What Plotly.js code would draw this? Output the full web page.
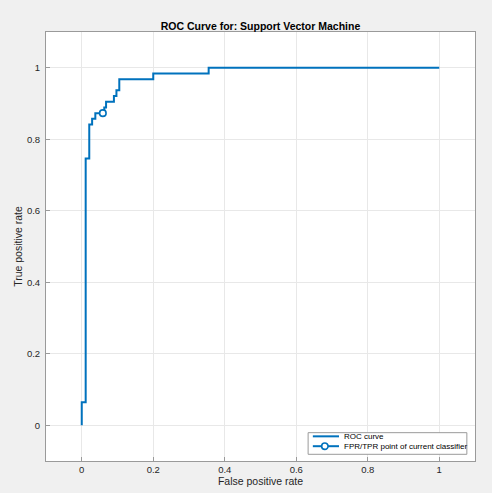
<!DOCTYPE html>
<html>
<head>
<meta charset="utf-8">
<script src="https://cdn.plot.ly/plotly-3.0.1.min.js"></script>
<style>
html,body{margin:0;padding:0;background:#f0f0f0;}
#chart{width:492px;height:493px;}
</style>
</head>
<body>
<div id="chart"></div>
<script>
// ROC curve vertices (false positive rate, true positive rate)
const rocFPR = [0, 0, 0.011, 0.011, 0.021, 0.021, 0.029, 0.029, 0.038, 0.038, 0.063, 0.063, 0.068, 0.068, 0.090, 0.090, 0.097, 0.097, 0.105, 0.105, 0.200, 0.200, 0.355, 0.355, 1.0];
const rocTPR = [0, 0.064, 0.064, 0.746, 0.746, 0.841, 0.841, 0.857, 0.857, 0.873, 0.873, 0.889, 0.889, 0.905, 0.905, 0.921, 0.921, 0.937, 0.937, 0.968, 0.968, 0.984, 0.984, 1.0, 1.0];
// Operating point of the current classifier
const opFPR = [0.059];
const opTPR = [0.873];
const traceNames = ["ROC curve", "FPR/TPR point of current classifier"];
const tickVals = [0, 0.2, 0.4, 0.6, 0.8, 1];
const tickText = ["0", "0.2", "0.4", "0.6", "0.8", "1"];

const blue = '#0072BD';
const FONT = 'Liberation Sans, Arial, Helvetica, sans-serif';
const traces = [
  {x: rocFPR, y: rocTPR, mode: 'lines', name: traceNames[0],
   line: {color: blue, width: 2}},
  {x: opFPR, y: opTPR, mode: 'lines+markers', name: traceNames[1],
   line: {color: blue, width: 2},
   marker: {symbol: 'circle', size: 6.5, color: '#ffffff', line: {color: blue, width: 1.6}}}
];

const axisCommon = {
  range: [-0.1, 1.1], tickvals: tickVals, ticktext: tickText,
  showgrid: true, gridcolor: '#e8e8e8', gridwidth: 1,
  zeroline: false, showline: true, mirror: true, linecolor: '#9a9a9a', linewidth: 1,
  ticks: 'inside', ticklen: 4, tickcolor: '#9a9a9a',
  tickfont: {family: FONT, size: 9.5, color: '#262626'},
  fixedrange: true
};

// Compact legend box (MATLAB style), drawn in paper coordinates
const lg = {x0: 0.611, x1: 0.981, y0: 0.0156, y1: 0.066,
            row1: 0.0575, row2: 0.0345, lx0: 0.622, lx1: 0.683, mx: 0.650, tx: 0.689};

const layout = {
  width: 492, height: 493,
  paper_bgcolor: '#f0f0f0', plot_bgcolor: '#ffffff',
  margin: {l: 46, r: 17, t: 32, b: 32},
  title: {text: '<b>ROC Curve for: Support Vector Machine</b>',
          font: {family: FONT, size: 10.5, color: '#000000'},
          x: 0.5, xref: 'paper', y: 1, yref: 'paper', yanchor: 'bottom', pad: {b: 2}},
  xaxis: Object.assign({}, axisCommon, {
    title: {text: 'False positive rate', standoff: 3,
            font: {family: FONT, size: 10.5, color: '#262626'}}
  }),
  yaxis: Object.assign({}, axisCommon, {
    ticklabelstandoff: 3,
    title: {text: 'True positive rate', standoff: 2,
            font: {family: FONT, size: 10.5, color: '#262626'}}
  }),
  showlegend: false,
  shapes: [
    {type: 'rect', xref: 'paper', yref: 'paper', x0: lg.x0, x1: lg.x1, y0: lg.y0, y1: lg.y1,
     fillcolor: '#ffffff', line: {color: '#9a9a9a', width: 1}, layer: 'above'},
    {type: 'line', xref: 'paper', yref: 'paper', x0: lg.lx0, x1: lg.lx1, y0: lg.row1, y1: lg.row1,
     line: {color: blue, width: 2}, layer: 'above'},
    {type: 'line', xref: 'paper', yref: 'paper', x0: lg.lx0, x1: lg.lx1, y0: lg.row2, y1: lg.row2,
     line: {color: blue, width: 2}, layer: 'above'},
    {type: 'circle', xref: 'paper', yref: 'paper', xsizemode: 'pixel', ysizemode: 'pixel',
     xanchor: lg.mx, yanchor: lg.row2, x0: -3.2, x1: 3.2, y0: -3.2, y1: 3.2,
     fillcolor: '#ffffff', line: {color: blue, width: 1.6}, layer: 'above'}
  ],
  annotations: [
    {xref: 'paper', yref: 'paper', x: lg.tx, y: lg.row1, xanchor: 'left', yanchor: 'middle',
     text: traceNames[0], showarrow: false, font: {family: FONT, size: 8, color: '#000000'}},
    {xref: 'paper', yref: 'paper', x: lg.tx, y: lg.row2, xanchor: 'left', yanchor: 'middle',
     text: traceNames[1], showarrow: false, font: {family: FONT, size: 8, color: '#000000'}}
  ]
};

Plotly.newPlot('chart', traces, layout, {displayModeBar: false, staticPlot: true});
</script>
</body>
</html>
